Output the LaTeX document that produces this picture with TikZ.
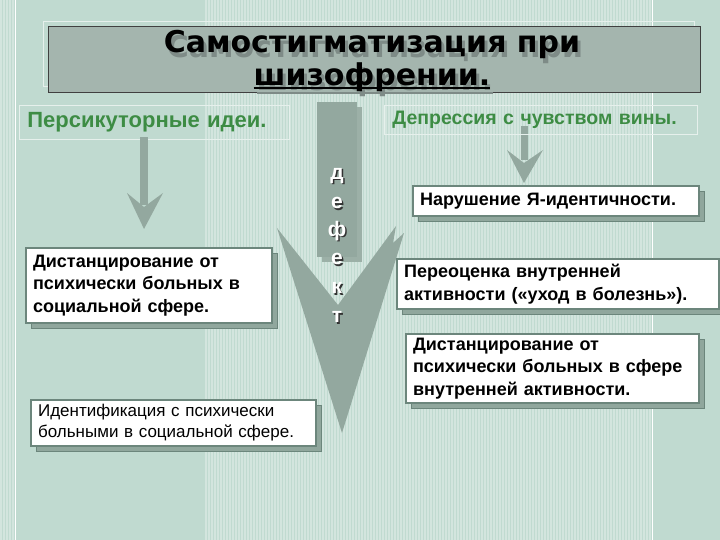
\documentclass[tikz,border=0pt]{standalone}
\usepackage{fontspec}
\setmainfont{Liberation Sans}
\newfontfamily\titlefont{DejaVu Sans}
\usetikzlibrary{shadows}
\definecolor{bgc}{HTML}{C0DAD0}
\definecolor{grayel}{HTML}{93A89F}
\definecolor{grayshd}{HTML}{9CB0A7}
\definecolor{bordc}{HTML}{6C867C}
\definecolor{shc}{HTML}{90A79D}
\definecolor{greent}{HTML}{3D8C44}
\definecolor{titlebox}{HTML}{A4B5AE}
\definecolor{tshadow}{HTML}{7E8B87}
\definecolor{hline}{HTML}{E6F0EC}
\newcommand\myul[1]{\setbox0\hbox{#1}\rlap{\rule[-3.5pt]{\wd0}{1.8pt}}\box0}
\begin{document}
\begin{tikzpicture}[x=1pt,y=-1pt,
  txtbox/.style={draw=bordc, line width=2.2pt, fill=white, anchor=north west,
    inner xsep=7pt, inner ysep=1pt, align=left, text=black,
    font=\fontsize{18}{22.5}\selectfont\bfseries,
    general shadow={fill=shc, draw=bordc, line width=1pt, shadow xshift=5pt, shadow yshift=-5pt}},
  hbox/.style={draw=hline, line width=0.8pt, anchor=north west, inner xsep=8pt, inner ysep=0pt,
    align=left, text=greent},
  titletext/.style={align=center, font=\titlefont\bfseries\fontsize{30}{33}\selectfont},
  letter/.style={font=\bfseries\fontsize{21}{21}\selectfont, inner sep=0pt}]
\useasboundingbox (0,0) rectangle (720,540);
% background
\fill[bgc] (0,0) rectangle (720,540);
\foreach \x in {1,4,...,13} \draw[white, opacity=0.3, line width=1.2pt] (\x,0) -- (\x,540);
\foreach \x in {206,209,...,650} \draw[white, opacity=0.3, line width=1.2pt] (\x,0) -- (\x,540);
\draw[white, line width=1pt] (15.5,0) -- (15.5,540);
\draw[white, line width=1pt] (652.5,0) -- (652.5,540);
% title
\draw[hline, line width=0.8pt] (43,21) rectangle (694,86);
\draw[draw=black!75, line width=1pt, fill=titlebox] (48,27) rectangle (700,93);
\node[titletext, text=tshadow] (tsh) at (375,66) {Самостигматизация при\\\myul{шизофрении.}};
\node[titletext, text=black] (title) at (372,61) {Самостигматизация при\\\myul{шизофрении.}};
% headings
\node[hbox, minimum width=270pt, minimum height=34pt, text width=254pt,
  font=\bfseries\fontsize{22}{24}\selectfont] (hl) at (19,105) {Персикуторные идеи.};
% defekt column and V
\fill[grayshd] (322,107) rectangle (362,262);
\fill[grayel] (317,102) rectangle (357,257);
\fill[grayel] (277,228) -- (338,305) -- (396,226) -- (393,243) -- (404,233) -- (342,433) -- cycle;
% left arrow
\fill[grayel] (140,137) rectangle (148,205);
\fill[grayel] (127,193) -- (144,207) -- (163,193) -- (144,229) -- cycle;
% right arrow
\fill[grayel] (521,126) rectangle (528,160);
\fill[grayel] (507,150) -- (524,163) -- (543,150) -- (524,183) -- cycle;
\node[hbox, minimum width=313pt, minimum height=29pt, text width=297pt,
  font=\bfseries\fontsize{19.5}{22}\selectfont] (hr) at (384,105) {Депрессия с чувством вины.};
% letters
\foreach \l/\yy [count=\i] in {д/176,е/203,ф/231,е/259,к/288,т/317}{
  \node[letter, text=black!80] (ls\i) at (338.5,\yy+1.5) {\l};
  \node[letter, text=white] (l\i) at (337,\yy) {\l};
}
% boxes
\node[txtbox, minimum width=246pt, minimum height=75pt, text width=232pt] (b1) at (25,247)
  {Дистанцирование от\\психически больных в\\социальной сфере.};
\node[txtbox, minimum width=285pt, minimum height=46pt, text width=271pt,
  font=\fontsize{17}{21}\selectfont] (b2) at (30,399)
  {Идентификация с психически\\больными в социальной сфере.};
\node[txtbox, minimum width=286pt, minimum height=30pt, text width=272pt] (b3) at (412,185)
  {Нарушение Я-идентичности.};
\node[txtbox, minimum width=322pt, minimum height=50pt, text width=308pt] (b4) at (396,258)
  {Переоценка внутренней\\активности («уход в болезнь»).};
\node[txtbox, minimum width=293pt, minimum height=69pt, text width=279pt] (b5) at (405,333)
  {Дистанцирование от\\психически больных в сфере\\внутренней активности.};
\end{tikzpicture}
\end{document}
